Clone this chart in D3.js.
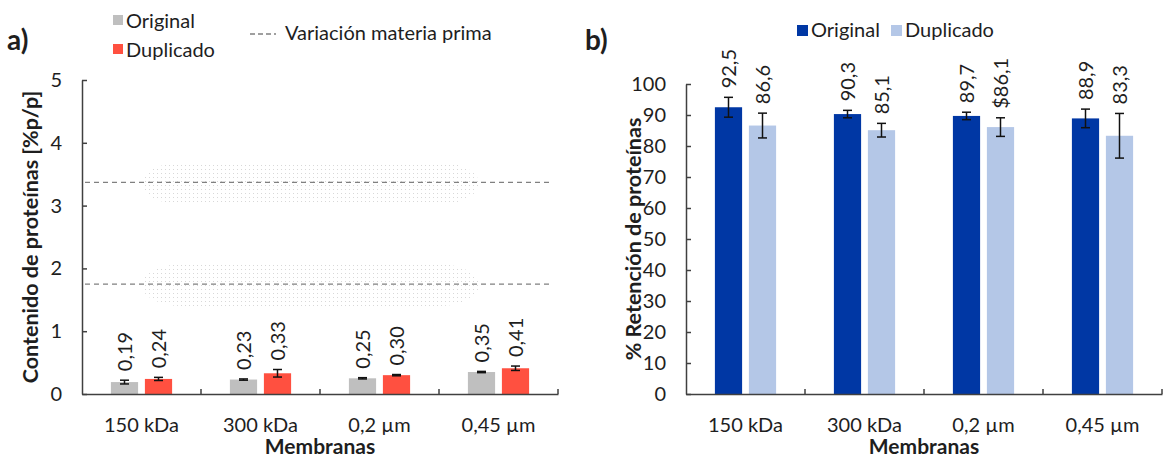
<!DOCTYPE html>
<html>
<head>
<meta charset="utf-8">
<script src="https://cdn.jsdelivr.net/npm/d3@7"></script>
<style>
  body { margin: 0; background: #fff; }
  svg text { font-family: Lato, "Open Sans", sans-serif; fill: #1e1e1e; }
</style>
</head>
<body>
<div id="chart"></div>
<script>
// membranas
var categories = ["150 kDa", "300 kDa", "0,2 µm", "0,45 µm"];
var series = ["Original", "Duplicado"];

// a) contenido de proteinas [%p/p]
var contOriginal = [0.19, 0.23, 0.25, 0.35];
var contDuplicado = [0.24, 0.33, 0.30, 0.41];
var contErrOriginal = [0.03, 0.01, 0.01, 0.01];
var contErrDuplicado = [0.025, 0.06, 0.01, 0.035];
var contLabelsOriginal = ["0,19", "0,23", "0,25", "0,35"];
var contLabelsDuplicado = ["0,24", "0,33", "0,30", "0,41"];
var contTicks = [0, 1, 2, 3, 4, 5];
var materiaPrima = [1.75, 3.37];

// b) % retencion de proteinas
var retOriginal = [92.5, 90.3, 89.7, 88.9];
var retDuplicado = [86.6, 85.1, 86.1, 83.3];
var retErrOriginal = [3.2, 1.2, 1.2, 3.0];
var retErrDuplicado = [4.0, 2.2, 3.0, 7.2];
var retLabelsOriginal = ["92,5", "90,3", "89,7", "88,9"];
var retLabelsDuplicado = ["86,6", "85,1", "$86,1", "83,3"];
var retTicks = [0, 10, 20, 30, 40, 50, 60, 70, 80, 90, 100];

var w = 1166, h = 457;
var fs = "20px";
var svg = d3.select("#chart").append("svg")
  .attr("width", w)
  .attr("height", h);

var defs = svg.append("defs");
var pat = defs.append("pattern")
  .attr("id", "dots")
  .attr("width", 4).attr("height", 4)
  .attr("patternUnits", "userSpaceOnUse");
pat.append("rect").attr("x", 1).attr("y", 1).attr("width", 1).attr("height", 1).attr("fill", "#d4d4d4");

function panel(p) {
  var x0 = d3.scaleBand().domain(categories).range(p.xr).paddingInner(0).paddingOuter(0);
  var x1 = d3.scaleBand().domain(series).range([0, x0.bandwidth()])
    .paddingInner(0.2).paddingOuter(0.85);
  var y = d3.scaleLinear().domain(p.yd).range(p.yr);
  var g = svg.append("g");

  if (p.before) p.before(g, x0, y);

  var rows = categories.map(function(c, i) {
    return [
      { cat: c, s: series[0], v: p.orig[i], e: p.errO[i], lab: p.labO[i], col: p.colors[0] },
      { cat: c, s: series[1], v: p.dup[i], e: p.errD[i], lab: p.labD[i], col: p.colors[1] }
    ];
  });
  var data = [].concat.apply([], rows);
  var cx = function(d) { return x0(d.cat) + x1(d.s) + x1.bandwidth() / 2; };

  g.selectAll("rect.bar").data(data).enter().append("rect")
    .attr("class", "bar")
    .attr("x", function(d) { return x0(d.cat) + x1(d.s); })
    .attr("width", x1.bandwidth())
    .attr("y", function(d) { return y(d.v); })
    .attr("height", function(d) { return y(0) - y(d.v); })
    .attr("fill", function(d) { return d.col; });

  // error bars
  var eb = g.selectAll("g.err").data(data).enter().append("g")
    .attr("stroke", "#111").attr("stroke-width", 1.5);
  eb.append("line")
    .attr("x1", cx).attr("x2", cx)
    .attr("y1", function(d) { return y(d.v - d.e); })
    .attr("y2", function(d) { return y(d.v + d.e); });
  [1, -1].forEach(function(sg) {
    eb.append("line")
      .attr("x1", function(d) { return cx(d) - 4.5; })
      .attr("x2", function(d) { return cx(d) + 4.5; })
      .attr("y1", function(d) { return y(d.v + sg * d.e); })
      .attr("y2", function(d) { return y(d.v + sg * d.e); });
  });

  // data labels
  g.selectAll("text.lab").data(data).enter().append("text")
    .attr("class", "lab")
    .attr("transform", function(d) {
      return "translate(" + cx(d) + "," + (y(d.v + d.e) - p.labGap) + ") rotate(-90)";
    })
    .attr("dy", "0.36em")
    .style("font-size", fs)
    .text(function(d) { return d.lab; });

  // axes
  var ya = g.append("g")
    .attr("transform", "translate(" + p.xr[0] + ",0)")
    .call(d3.axisLeft(y).tickValues(p.ticks).tickSizeInner(-5).tickSizeOuter(0).tickPadding(20)
      .tickFormat(d3.format("d")));
  ya.selectAll("text").style("font-size", fs);

  var xa = g.append("g")
    .attr("transform", "translate(0," + y(0) + ")")
    .call(d3.axisBottom(x0).tickSize(0).tickPadding(24));
  xa.selectAll("text").style("font-size", fs);
  xa.selectAll(".tick line").remove();
  g.selectAll("line.sep").data(categories).enter().append("line")
    .attr("x1", function(c) { return x0(c) + x0.bandwidth(); })
    .attr("x2", function(c) { return x0(c) + x0.bandwidth(); })
    .attr("y1", y(0)).attr("y2", y(0) - 5)
    .attr("stroke", "#404040").attr("stroke-width", 1.5);
  g.selectAll(".domain").attr("stroke", "#404040").attr("stroke-width", 1.5);
  ya.selectAll(".tick line").attr("stroke", "#404040").attr("stroke-width", 1.5);

  g.append("text")
    .attr("x", (p.xr[0] + p.xr[1]) / 2).attr("y", 454)
    .attr("text-anchor", "middle")
    .style("font-size", "21px").style("font-weight", "bold")
    .text("Membranas");
  g.append("text")
    .attr("transform", "translate(" + p.ytx + "," + (p.yr[0] + p.yr[1]) / 2 + ") rotate(-90)")
    .attr("text-anchor", "middle")
    .style("font-size", "21.5px").style("font-weight", "bold")
    .text(p.ytitle);
  g.append("text")
    .attr("x", p.tagx).attr("y", 50)
    .style("font-size", "28px").style("font-weight", "bold")
    .text(p.tag);
}

panel({
  xr: [82, 558], yd: [0, 5], yr: [394, 80],
  orig: contOriginal, dup: contDuplicado,
  errO: contErrOriginal, errD: contErrDuplicado,
  labO: contLabelsOriginal, labD: contLabelsDuplicado,
  ticks: contTicks, colors: ["#bfbfbf", "#ff5040"], labGap: 9,
  ytitle: "Contenido de proteínas [%p/p]", ytx: 38, tag: "a)", tagx: 7,
  before: function(g, x0, y) {
    materiaPrima.forEach(function(v) {
      g.append("rect")
        .attr("x", x0(categories[0]) + 60).attr("width", x0(categories[3]) - x0(categories[0]) - 20)
        .attr("y", y(v) - 20).attr("height", 42)
        .attr("rx", 40).attr("fill", "url(#dots)").attr("opacity", 0.9);
    });
    g.selectAll("line.mp").data(materiaPrima).enter().append("line")
      .attr("x1", x0(categories[0]) + 3).attr("x2", x0(categories[3]) + x0.bandwidth() - 8)
      .attr("y1", function(v) { return y(v); }).attr("y2", function(v) { return y(v); })
      .attr("stroke", "#808080").attr("stroke-width", 1.3).attr("stroke-dasharray", "5,4");
  }
});

panel({
  xr: [686, 1162], yd: [0, 100], yr: [394, 84],
  orig: retOriginal, dup: retDuplicado,
  errO: retErrOriginal, errD: retErrDuplicado,
  labO: retLabelsOriginal, labD: retLabelsDuplicado,
  ticks: retTicks, colors: ["#0037a4", "#b4c7e7"], labGap: 9,
  ytitle: "% Retención de proteínas", ytx: 641, tag: "b)", tagx: 585
});

// legends
var legA = svg.append("g");
legA.selectAll("rect").data(series).enter().append("rect")
  .attr("x", 113).attr("y", function(d, i) { return 15 + i * 29; })
  .attr("width", 10).attr("height", 10)
  .attr("fill", function(d, i) { return ["#bfbfbf", "#ff5040"][i]; });
legA.selectAll("text").data(series).enter().append("text")
  .attr("x", 126).attr("y", function(d, i) { return 28 + i * 29; })
  .style("font-size", fs)
  .text(function(d) { return d; });
legA.append("line")
  .attr("x1", 250).attr("x2", 276).attr("y1", 34).attr("y2", 34)
  .attr("stroke", "#808080").attr("stroke-width", 1.3).attr("stroke-dasharray", "5,3");
legA.append("text").attr("x", 285).attr("y", 40).style("font-size", fs)
  .text("Variación materia prima");

var legB = svg.append("g");
var legBx = [797, 891];
legB.selectAll("rect").data(series).enter().append("rect")
  .attr("x", function(d, i) { return legBx[i]; }).attr("y", 25)
  .attr("width", 11).attr("height", 11)
  .attr("fill", function(d, i) { return ["#0037a4", "#b4c7e7"][i]; });
legB.selectAll("text").data(series).enter().append("text")
  .attr("x", function(d, i) { return legBx[i] + 14; }).attr("y", 37)
  .style("font-size", fs)
  .text(function(d) { return d; });
</script>
</body>
</html>
